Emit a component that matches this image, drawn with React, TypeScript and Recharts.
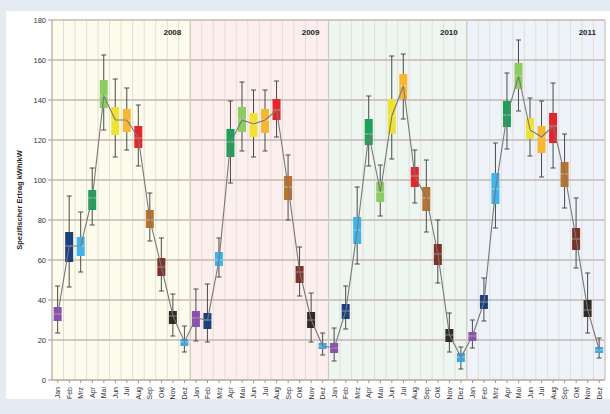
import {
  ComposedChart,
  Bar,
  Line,
  XAxis,
  YAxis,
  CartesianGrid,
  ReferenceArea,
} from 'recharts';

const YEARS = ['2008', '2009', '2010', '2011'];
const MONTHS = ['Jan', 'Feb', 'Mrz', 'Apr', 'Mai', 'Jun', 'Jul', 'Aug', 'Sep', 'Okt', 'Nov', 'Dez'];

const MONTH_COLORS = [
  '#8a4fb0', '#1d3f7e', '#3fb4e8', '#1fa05a', '#8ccc60', '#f0e234',
  '#f7b733', '#e3262b', '#b8732f', '#7a3229', '#2d2b22', '#41a6dd',
];
const YEAR_FILLS = ['#fdfcec', '#fcefee', '#eef6f1', '#eef3f9'];

// whisker high / q3 / median / q1 / whisker low, Jan 2008 .. Dez 2011
const hi = [
  47, 92, 84, 106, 162.5, 150.5, 146, 137.5, 93.5, 71, 43, 27,
  45.5, 48, 71, 139.5, 149, 145, 145, 149.5, 112.5, 66.5, 43.5, 23.5,
  26, 47, 96.5, 142, 107.5, 162, 163, 115, 110, 80, 33.5, 16.5,
  30, 51, 118.5, 153.5, 170, 141, 139.5, 148.5, 123, 91, 53.5, 21,
];
const q3 = [
  36.5, 74, 71.5, 95, 150, 136.5, 135.5, 127, 85, 61, 34.5, 20.5,
  34.5, 33.5, 64, 125.5, 136.5, 133.5, 135.5, 140.5, 102, 57, 34, 18.5,
  18.5, 38, 81.5, 130.5, 99, 140.5, 153, 106.5, 96.5, 68, 25.5, 13.5,
  24, 42.5, 103.5, 139.5, 158.5, 131, 127, 133.5, 109, 76, 40, 16.5,
];
const med = [
  33, 67, 67, 91, 142, 130, 130, 121, 80, 56.5, 32, 19,
  31, 30, 60, 119, 130, 128, 130, 135, 96.5, 54, 30, 17,
  16, 34.5, 75, 123, 94, 132, 147, 102, 91, 63, 22.5, 11.5,
  22, 39, 95.5, 132.5, 152, 125, 121.5, 127, 103, 70.5, 35, 15,
];
const q1 = [
  29.5, 59, 62, 85, 136, 122.5, 124, 116, 76, 52, 28, 17,
  26.5, 25.5, 57, 111.5, 124, 121.5, 123.5, 130, 90, 48.5, 26, 15.5,
  13.5, 30.5, 68, 117.5, 89, 123, 140.5, 96.5, 84.5, 57.5, 19, 9,
  19.5, 35.5, 88, 126.5, 145.5, 120.5, 113.5, 118.5, 96.5, 65, 31.5, 13.5,
];
const lo = [
  23.5, 46.5, 54, 77.5, 125, 111.5, 115, 107, 69.5, 44.5, 22, 14,
  19.5, 19, 51.5, 98.5, 114.5, 111.5, 114.5, 121.5, 80, 42, 19, 12.5,
  9.5, 25.5, 58, 107, 82, 110.5, 130.5, 88.5, 74, 48.5, 14, 5.5,
  16, 29.5, 76, 115.5, 134.5, 112, 101.5, 106, 86, 56, 23.5, 11,
];

const Y_TICKS = [0, 20, 40, 60, 80, 100, 120, 140, 160, 180];

const data = YEARS.flatMap((year, yi) =>
  MONTHS.map((month, mi) => {
    const i = yi * 12 + mi;
    return {
      key: `${month} ${year}`,
      month,
      mi,
      range: [lo[i], hi[i]],
      lo: lo[i],
      q1: q1[i],
      med: med[i],
      q3: q3[i],
      hi: hi[i],
    };
  })
);

const FONT = "'Liberation Sans', Arial, sans-serif";

function BoxShape(props: any) {
  const { x, y, width, height, payload } = props;
  const top = Math.min(y, y + height);
  const h = Math.abs(height);
  const span = payload.hi - payload.lo;
  const ppu = span > 0 ? h / span : 0;
  const cx = x + width / 2;
  const boxTop = top + (payload.hi - payload.q3) * ppu;
  const boxBot = top + (payload.hi - payload.q1) * ppu;
  const medY = top + (payload.hi - payload.med) * ppu;
  const bw = 8;
  const cap = 2.5;
  const color = MONTH_COLORS[payload.mi];
  return (
    <g>
      <line x1={cx} x2={cx} y1={top} y2={top + h} stroke="#4a4a4a" strokeWidth={1} />
      <line x1={cx - cap} x2={cx + cap} y1={top} y2={top} stroke="#4a4a4a" strokeWidth={1} />
      <line x1={cx - cap} x2={cx + cap} y1={top + h} y2={top + h} stroke="#4a4a4a" strokeWidth={1} />
      <rect x={cx - bw / 2} y={boxTop} width={bw} height={boxBot - boxTop} fill={color} />
      <line x1={cx - bw / 2} x2={cx + bw / 2} y1={medY} y2={medY} stroke="rgba(255,255,255,0.45)" strokeWidth={1} />
    </g>
  );
}

function MonthTick(props: any) {
  const { x, y, payload } = props;
  const month = String(payload.value).split(' ')[0];
  return (
    <text
      x={x}
      y={y + 2}
      transform={`rotate(-90 ${x} ${y + 2})`}
      textAnchor="end"
      dominantBaseline="central"
      fontSize={7}
      fontFamily={FONT}
      fill="#333"
    >
      {month}
    </text>
  );
}

const monthLines = ({ offset }: any) =>
  Array.from({ length: 49 }, (_, i) => offset.left + (i * offset.width) / 48);

const yearLines = ({ offset }: any) =>
  Array.from({ length: 5 }, (_, i) => offset.left + (i * offset.width) / 4);

const stripeFills = YEARS.flatMap((_, yi) => MONTHS.map(() => YEAR_FILLS[yi]));

export default function App() {
  return (
    <div
      style={{
        position: 'fixed',
        left: 0,
        top: 0,
        width: 610,
        height: 414,
        background: '#e4eaf2',
      }}
    >
      <div
        style={{
          position: 'absolute',
          left: 6,
          top: 11,
          width: 604,
          height: 388,
          background: '#ffffff',
        }}
      />
      <div style={{ position: 'absolute', left: 0, top: 0 }}>
        <ComposedChart
          width={610}
          height={414}
          data={data}
          margin={{ top: 20, right: 5, bottom: 0, left: 0 }}
          style={{ fontFamily: FONT }}
        >
          <CartesianGrid
            horizontal={false}
            verticalCoordinatesGenerator={monthLines}
            verticalFill={stripeFills}
            stroke="#e2ded6"
            strokeWidth={1}
          />
          <CartesianGrid
            vertical={false}
            stroke="#c4b9b0"
            strokeWidth={1.3}
          />
          <CartesianGrid
            horizontal={false}
            verticalCoordinatesGenerator={yearLines}
            stroke="#d2c8c2"
            strokeWidth={1.2}
          />
          <XAxis
            dataKey="key"
            interval={0}
            height={34}
            tick={<MonthTick />}
            tickLine={{ stroke: '#999' }}
            tickSize={3}
            axisLine={{ stroke: '#b8aea6' }}
          />
          <YAxis
            width={52}
            domain={[0, 180]}
            ticks={Y_TICKS}
            tick={{ fontSize: 7.5, fill: '#333', fontFamily: FONT }}
            tickLine={{ stroke: '#999' }}
            tickSize={4}
            axisLine={{ stroke: '#c4b9b0' }}
            label={{
              value: 'Spezifischer Ertrag kWh/kW',
              angle: -90,
              position: 'insideLeft',
              offset: 19,
              style: { fontSize: 7.5, fontWeight: 700, fill: '#222', textAnchor: 'middle', fontFamily: FONT },
            }}
          />
          {YEARS.map((year) => (
            <ReferenceArea
              key={year}
              x1={`Jan ${year}`}
              x2={`Dez ${year}`}
              ifOverflow="visible"
              fill="none"
              fillOpacity={0}
              stroke="none"
              label={{
                value: year,
                position: 'insideTopRight',
                offset: 9,
                style: { fontSize: 8, fontWeight: 700, fill: '#222', fontFamily: FONT },
              }}
            />
          ))}
          <Bar dataKey="range" shape={<BoxShape />} isAnimationActive={false} />
          <Line
            dataKey="med"
            type="linear"
            stroke="#777"
            strokeWidth={1.1}
            dot={false}
            activeDot={false}
            isAnimationActive={false}
          />
        </ComposedChart>
      </div>
    </div>
  );
}
